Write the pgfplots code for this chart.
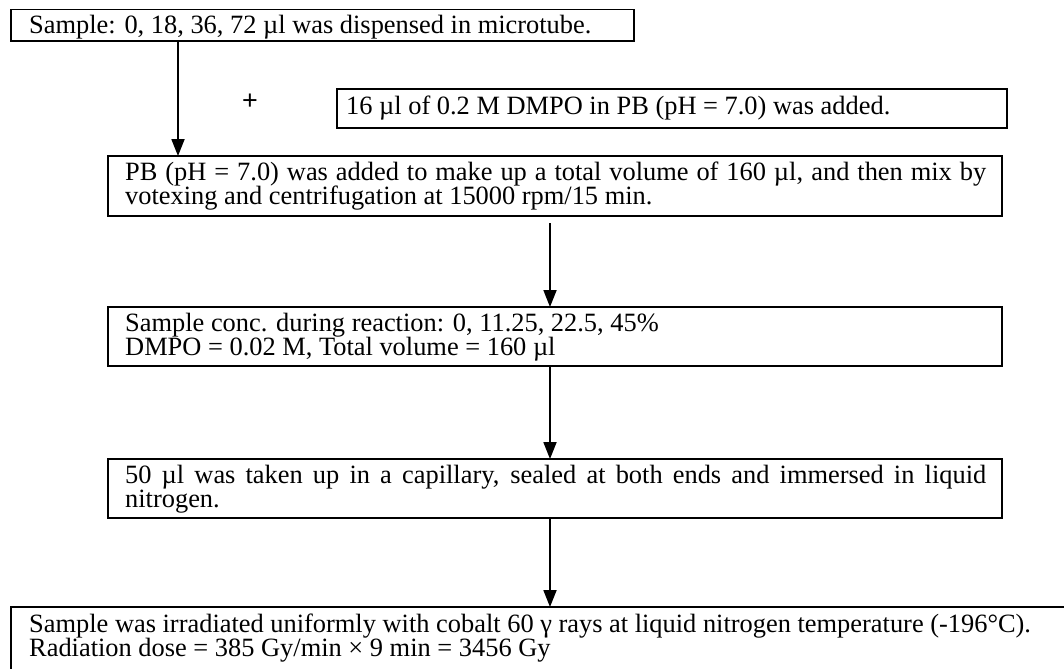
\documentclass[border=0pt]{standalone}
\usepackage{pgfplots}
\pgfplotsset{compat=1.18}
\usepackage{fontspec}
\setmainfont{Liberation Serif}
\newfontfamily\plusfont{Liberation Sans}
\usetikzlibrary{arrows.meta}
\begin{document}
\begin{tikzpicture}
\begin{axis}[
  width=1064bp, height=668bp, scale only axis,
  xmin=0, xmax=1064, ymin=0, ymax=668, y dir=reverse,
  axis lines=none, clip=false,
]
\tikzset{bx/.style={line width=1.8bp, black},
  ar/.style={line width=1.8bp, -{Triangle[width=13bp,length=17bp]}},
  tx/.style={anchor=base west, inner sep=0pt, font=\fontsize{26.5}{29}\selectfont}}
% boxes
\draw[bx] (axis cs:11,9.5) rectangle (axis cs:634,41);
\draw[bx] (axis cs:337,89) rectangle (axis cs:1007,128);
\draw[bx] (axis cs:108,156) rectangle (axis cs:1002,216);
\draw[bx] (axis cs:108,307) rectangle (axis cs:1002,366);
\draw[bx] (axis cs:108,459) rectangle (axis cs:1002,518);
\draw[bx] (axis cs:1070,607) -- (axis cs:11,607) -- (axis cs:11,675);
% arrows
\draw[ar] (axis cs:178,41) -- (axis cs:178,156);
\draw[ar] (axis cs:550,223) -- (axis cs:550,307);
\draw[ar] (axis cs:550,366) -- (axis cs:550,459);
\draw[ar] (axis cs:550,518) -- (axis cs:550,607);
% plus
\node[inner sep=0pt, font=\plusfont\fontsize{27}{27}\selectfont] at (axis cs:250,102) {+};
% texts
\node[tx] at (axis cs:29,34) {Sample: 0, 18, 36, 72 µl was dispensed in microtube.};
\node[tx] at (axis cs:346,114) {16 µl of 0.2 M DMPO in PB (pH = 7.0) was added.};
\node[tx] at (axis cs:125,180) {\makebox[861bp][s]{PB (pH = 7.0) was added to make up a total volume of 160 µl, and then mix by}};
\node[tx] at (axis cs:125,204) {votexing and centrifugation at 15000 rpm/15 min.};
\node[tx] at (axis cs:125,331) {Sample conc. during reaction: 0, 11.25, 22.5, 45\%};
\node[tx] at (axis cs:125,355) {DMPO = 0.02 M, Total volume = 160 µl};
\node[tx] at (axis cs:125,483) {\makebox[861bp][s]{50 µl was taken up in a capillary, sealed at both ends and immersed in liquid}};
\node[tx] at (axis cs:125,507) {nitrogen.};
\node[tx] at (axis cs:29,632) {Sample was irradiated uniformly with cobalt 60 γ rays at liquid nitrogen temperature (-196°C).};
\node[tx] at (axis cs:29,656) {Radiation dose = 385 Gy/min × 9 min = 3456 Gy};
\end{axis}
\pgfresetboundingbox
\path (current axis.south west) rectangle (current axis.north east);
\end{tikzpicture}
\end{document}
